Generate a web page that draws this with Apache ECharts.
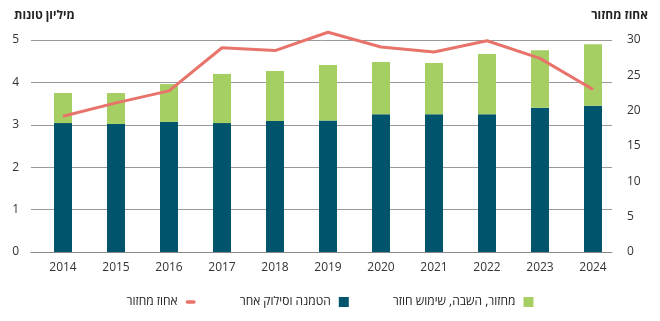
<!DOCTYPE html>
<html><head><meta charset="utf-8">
<script src="https://cdn.jsdelivr.net/npm/echarts@6/dist/echarts.min.js"></script>
<style>html,body{margin:0;padding:0;background:#fff}#c{width:660px;height:321px}</style>
</head><body><div id="c"></div>
<script>
const years = ['2014','2015','2016','2017','2018','2019','2020','2021','2022','2023','2024'];
const landfill = [3.04,3.02,3.07,3.04,3.09,3.1,3.25,3.25,3.25,3.4,3.45];
const recycling = [0.71,0.73,0.89,1.16,1.18,1.31,1.23,1.21,1.42,1.36,1.45];
const recycleRate = [19.2,21.1,22.8,28.9,28.5,31.1,29.0,28.3,29.9,27.4,23.0];
const leftTicks = [0,1,2,3,4,5];
const rightTicks = [0,5,10,15,20,25,30];
const names = ['מחזור, השבה, שימוש חוזר','הטמנה וסילוק אחר','אחוז מחזור'];
const leftTitle = 'מיליון טונות';
const rightTitle = 'אחוז מחזור';

const font = "'Open Sans', 'DejaVu Sans', sans-serif";
const lMin = leftTicks[0], lMax = leftTicks[leftTicks.length-1];
const rMin = rightTicks[0], rMax = rightTicks[rightTicks.length-1];
const chart = echarts.init(document.getElementById('c'), null, {renderer:'canvas'});
chart.setOption({
  animation:false,
  textStyle:{fontFamily:font},
  grid:[
    {left:31,right:48,top:40,bottom:69,containLabel:false},
    {left:36.5,right:40.5,top:40,bottom:69,containLabel:false}
  ],
  graphic:[
    {type:'text',left:14,top:10,style:{text:leftTitle,font:"bold 12px "+font,fill:'#222'}},
    {type:'text',right:12,top:10,style:{text:rightTitle,font:"bold 12px "+font,fill:'#222'}}
  ],
  legend:{
    bottom:8,left:'center',itemGap:44,align:'right',itemWidth:10,itemHeight:10,
    textStyle:{fontSize:12,color:'#222',fontFamily:font,padding:[0,3,0,0]},
    data:[
      {name:names[2],icon:'path://M2,0 L10,0 A2,2 0 0 1 10,4 L2,4 A2,2 0 0 1 2,0 Z',itemStyle:{color:'#e8736b'}},
      {name:names[1],icon:'rect'},
      {name:names[0],icon:'rect'}
    ]
  },
  xAxis:[
    {type:'category',gridIndex:0,data:years,
     axisLine:{lineStyle:{color:'#888'}},axisTick:{show:false},axisLabel:{show:false}},
    {type:'category',gridIndex:1,data:years,
     axisLine:{show:false},axisTick:{show:false},
     axisLabel:{color:'#333',fontSize:12,margin:10}}
  ],
  yAxis:[
    {type:'value',gridIndex:0,min:lMin,max:lMax,interval:1,
     axisLine:{show:false},axisTick:{show:false},
     axisLabel:{color:'#333',fontSize:12,margin:12,align:'right'},
     splitLine:{lineStyle:{color:'#999',width:1}}},
    {type:'value',gridIndex:0,min:rMin,max:rMax,interval:5,position:'right',
     axisLine:{show:false},axisTick:{show:false},alignTicks:false,
     axisLabel:{color:'#333',fontSize:12,margin:15,align:'left'},
     splitLine:{show:false}},
    {type:'value',gridIndex:1,min:lMin,max:lMax,interval:1,show:false},
    {type:'value',gridIndex:1,min:rMin,max:rMax,interval:5,position:'right',show:false,alignTicks:false}
  ],
  series:[
    {name:names[1],type:'bar',xAxisIndex:1,yAxisIndex:2,stack:'s',data:landfill,barWidth:18,itemStyle:{color:'#00546b'}},
    {name:names[0],type:'bar',xAxisIndex:1,yAxisIndex:2,stack:'s',data:recycling,barWidth:18,itemStyle:{color:'#a6cf63'}},
    {name:names[2],type:'line',xAxisIndex:1,yAxisIndex:3,data:recycleRate,symbol:'none',clip:false,
     lineStyle:{color:'#e8736b',width:3},itemStyle:{color:'#e8736b'}}
  ]
});
</script></body></html>
